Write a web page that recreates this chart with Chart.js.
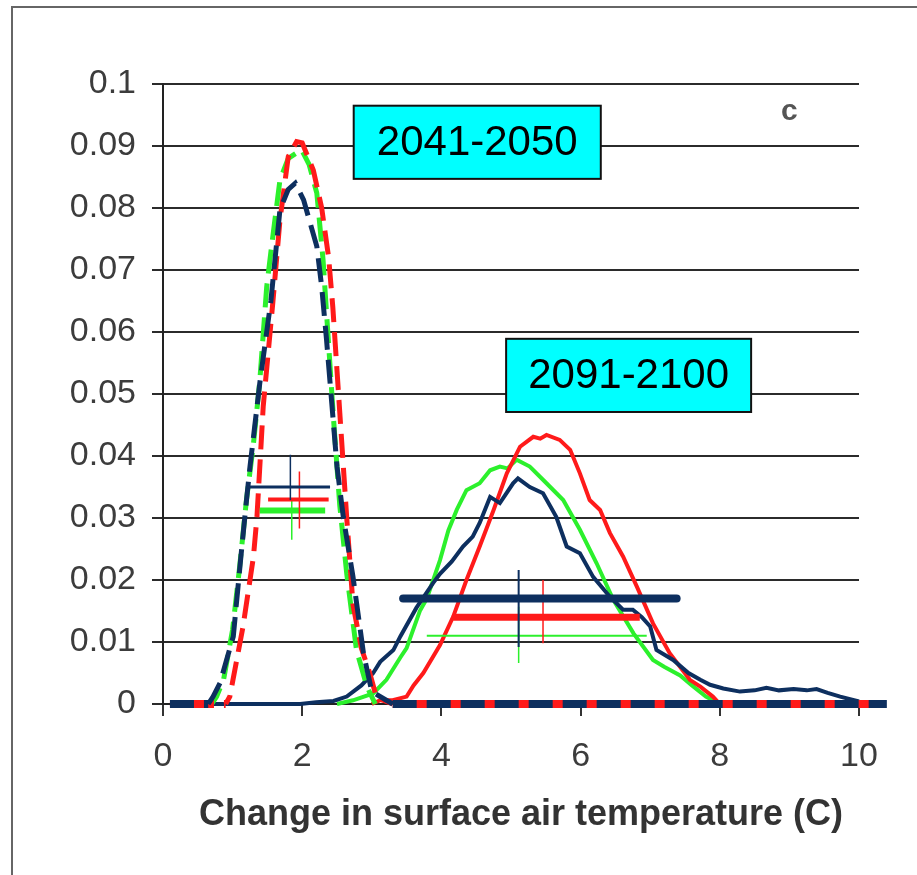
<!DOCTYPE html>
<html>
<head>
<meta charset="utf-8">
<script src="https://cdn.jsdelivr.net/npm/chart.js@4/dist/chart.umd.min.js"></script>
<style>
body{margin:0;background:#fff}
canvas{display:block}
</style>
</head>
<body>
<canvas id="chart" width="917" height="875"></canvas>
<script>

const xTicks=[0,2,4,6,8,10]
const yTicks=[0,0.01,0.02,0.03,0.04,0.05,0.06,0.07,0.08,0.09,0.1]
const xTitle="Change in surface air temperature (C)"
const periods=["2041-2050","2091-2100"]
const panelLabel="c"

// 2041-2050, dashed curves
const navyDashX=[0.1,0.65,0.72,0.82,1.01,1.11,1.20,1.25,1.39,1.55,1.68,1.80,1.90,2.02,2.21,2.28,2.35,2.50,2.59,2.73,2.88,3.0,3.3,10.4]
const navyDashY=[0,0,0.0012,0.0034,0.0109,0.0227,0.0329,0.0383,0.0517,0.065,0.0797,0.083,0.084,0.0813,0.0738,0.0673,0.0587,0.0383,0.0302,0.0205,0.0082,0.002,0,0]
const redDashX=[0.1,0.9,0.96,1.15,1.30,1.35,1.44,1.58,1.68,1.80,1.92,2.0,2.16,2.28,2.38,2.44,2.54,2.64,2.73,2.85,2.97,3.07,3.3,10.4]
const redDashY=[0,0,0.0012,0.0125,0.0238,0.0302,0.048,0.065,0.078,0.0883,0.0907,0.0905,0.0861,0.080,0.072,0.064,0.047,0.030,0.016,0.009,0.005,0.001,0,0]
const greenDashX=[0.6,0.7,0.77,0.87,1.0,1.1,1.2,1.3,1.39,1.49,1.56,1.68,1.8,1.99,2.1,2.21,2.30,2.35,2.45,2.54,2.64,2.78,2.93,3.05]
const greenDashY=[0,0,0.0012,0.0039,0.012,0.022,0.033,0.042,0.052,0.0673,0.0738,0.0845,0.088,0.0894,0.087,0.0824,0.0716,0.063,0.046,0.032,0.021,0.0087,0.0028,0]

// 2091-2100, solid curves
const navySolidX=[0.1,1.97,2.2,2.45,2.64,2.85,3.02,3.12,3.31,3.41,3.64,3.88,3.98,4.15,4.31,4.45,4.55,4.70,4.84,5.03,5.10,5.27,5.46,5.65,5.80,5.99,6.18,6.42,6.61,6.75,6.88,7.0,7.09,7.33,7.55,7.72,7.86,8.05,8.29,8.5,8.67,8.85,9.06,9.25,9.39,9.55,9.73,10.0,10.4]
const navySolidY=[0,0,0.0003,0.0005,0.0012,0.003,0.005,0.0068,0.0087,0.0109,0.0155,0.0195,0.021,0.023,0.0254,0.027,0.0292,0.0334,0.0324,0.0356,0.0364,0.035,0.034,0.0302,0.0254,0.0243,0.0205,0.0173,0.0152,0.0152,0.014,0.0125,0.0087,0.0071,0.005,0.0039,0.0031,0.0025,0.002,0.0022,0.0026,0.0022,0.0024,0.0022,0.0024,0.0018,0.0012,0.0004,0]
const redSolidX=[3.0,3.12,3.3,3.5,3.6,3.74,3.98,4.17,4.36,4.55,4.75,4.94,5.13,5.32,5.42,5.51,5.70,5.85,5.99,6.13,6.28,6.42,6.61,6.81,7.04,7.28,7.57,7.72,7.9,8.0]
const redSolidY=[0,0.0006,0.0006,0.0012,0.003,0.005,0.0095,0.0141,0.02,0.0254,0.0313,0.0372,0.0415,0.0431,0.0428,0.0434,0.0426,0.041,0.0372,0.0329,0.0313,0.0276,0.0238,0.0189,0.013,0.0082,0.0039,0.0028,0.0012,0]
const greenSolidX=[2.5,2.73,3.02,3.21,3.41,3.5,3.69,3.79,3.98,4.10,4.22,4.36,4.55,4.70,4.84,4.95,5.08,5.27,5.51,5.75,5.99,6.23,6.47,6.76,7.04,7.2,7.43,7.6,7.8,8.0]
const greenSolidY=[0,0.0006,0.0017,0.0039,0.0075,0.009,0.015,0.017,0.0232,0.028,0.0313,0.0345,0.0356,0.0377,0.0383,0.038,0.0394,0.0383,0.0356,0.0329,0.0281,0.0227,0.0168,0.0114,0.0071,0.006,0.0046,0.003,0.0012,0]

// ranges with centre marks: navy, red, green
const range2050Lo=[1.20,1.51,1.39]
const range2050Hi=[2.40,2.38,2.33]
const range2050Y=[0.035,0.033,0.0312]
const mark2050X=[1.83,1.96,1.85]
const mark2050Top=[0.0402,0.0375,0.033]
const mark2050Bot=[0.0329,0.0283,0.0265]

const range2100Lo=[3.45,4.17,3.79]
const range2100Hi=[7.38,6.85,6.95]
const range2100Y=[0.017,0.014,0.011]
const mark2100X=[5.11,5.46,5.11]
const mark2100Top=[0.0216,0.020,0.0157]
const mark2100Bot=[0.0092,0.0098,0.0066]

const NAVY="#0d2f5f"
const RED="#ff1a1a"
const GREEN="#2cf02c"
const colors=[NAVY,RED,GREEN]
const FONT="'Liberation Sans', Arial, sans-serif"

function pts(xs,ys){
return xs.map((x,i)=>({x:x,y:ys[i]}))
}

function curve(xs,ys,color,dashed,offset){
const w=dashed?5:4
return {
data:pts(xs,ys),
borderColor:color,
borderWidth:w,
borderDash:dashed?[24,10]:[],
borderDashOffset:offset||0,
segment:{
borderWidth:c=>(dashed&&c.p0.parsed.y===0&&c.p1.parsed.y===0)?8:w
}
}
}

let datasets=[]

// ranges on top
const rangeWidths2050=[3,4,6]
const rangeWidths2100=[8,7,2]
for(let i=0;i<3;i++){
datasets.push({data:[{x:range2100Lo[i],y:range2100Y[i]},{x:range2100Hi[i],y:range2100Y[i]}],borderColor:colors[i],borderWidth:rangeWidths2100[i],borderCapStyle:i==0?"round":"butt"})
datasets.push({data:[{x:mark2100X[i],y:mark2100Top[i]},{x:mark2100X[i],y:mark2100Bot[i]}],borderColor:colors[i],borderWidth:i==0?2:1.5})
datasets.push({data:[{x:range2050Lo[i],y:range2050Y[i]},{x:range2050Hi[i],y:range2050Y[i]}],borderColor:colors[i],borderWidth:rangeWidths2050[i]})
datasets.push({data:[{x:mark2050X[i],y:mark2050Top[i]},{x:mark2050X[i],y:mark2050Bot[i]}],borderColor:colors[i],borderWidth:1.5})
}

datasets.push(curve(navyDashX,navyDashY,NAVY,true,0))
datasets.push(curve(redDashX,redDashY,RED,true,14))
datasets.push(curve(greenDashX,greenDashY,GREEN,true,6))
datasets.push(curve(navySolidX,navySolidY,NAVY,false))
datasets.push(curve(redSolidX,redSolidY,RED,false))
datasets.push(curve(greenSolidX,greenSolidY,GREEN,false))

datasets.forEach(d=>{
d.pointRadius=0
d.tension=0
d.clip=false
d.fill=false
})

function box(ctx,x,y,x1,y1,x2,y2,text){
const l=x.getPixelForValue(x1),r=x.getPixelForValue(x2)
const t=y.getPixelForValue(y1),b=y.getPixelForValue(y2)
ctx.fillStyle="#00ffff"
ctx.fillRect(l,t,r-l,b-t)
ctx.strokeStyle="#111"
ctx.lineWidth=2
ctx.strokeRect(l,t,r-l,b-t)
ctx.fillStyle="#000"
ctx.font="42px "+FONT
ctx.textAlign="center"
ctx.textBaseline="middle"
ctx.fillText(text,(l+r)/2,(t+b)/2+1)
}

const extras={
id:"extras",
beforeDraw(chart){
const ctx=chart.ctx
ctx.save()
ctx.fillStyle="#fff"
ctx.fillRect(0,0,chart.width,chart.height)
ctx.strokeStyle="#666"
ctx.lineWidth=2
ctx.beginPath()
ctx.moveTo(12,chart.height)
ctx.lineTo(12,7)
ctx.lineTo(chart.width,7)
ctx.stroke()
ctx.restore()
},
afterDraw(chart){
const {ctx,chartArea,scales:{x,y}}=chart
ctx.save()
box(ctx,x,y,2.74,0.0965,6.29,0.0847,periods[0])
box(ctx,x,y,4.93,0.0589,8.45,0.0471,periods[1])

ctx.fillStyle="#555"
ctx.font="bold 30px "+FONT
ctx.textAlign="center"
ctx.textBaseline="middle"
ctx.fillText(panelLabel,x.getPixelForValue(9.0),y.getPixelForValue(0.0955))

ctx.fillStyle="#333"
ctx.font="bold 36px "+FONT
ctx.fillText(xTitle,(chartArea.left+chartArea.right)/2+10,chartArea.bottom+111)
ctx.restore()
}
}

new Chart(document.getElementById("chart"),{
type:"line",
data:{datasets:datasets},
plugins:[extras],
options:{
responsive:false,
animation:false,
events:[],
layout:{padding:{top:84,right:58,bottom:0,left:0}},
plugins:{legend:{display:false},tooltip:{enabled:false}},
scales:{
x:{
type:"linear",
min:0,max:10,
afterBuildTicks:a=>{a.ticks=xTicks.map(v=>({value:v}))},
afterFit:s=>{s.height=171},
grid:{drawOnChartArea:false,drawTicks:true,tickLength:12,color:"#333",lineWidth:2},
border:{display:true,color:"#222",width:2},
ticks:{font:{size:34,family:FONT},color:"#3c3c3c",padding:20,maxRotation:0}
},
y:{
min:0,max:0.1,
afterBuildTicks:a=>{a.ticks=yTicks.map(v=>({value:v}))},
afterFit:s=>{s.width=163},
grid:{color:"#2b2b2b",lineWidth:2,drawTicks:true,tickLength:11},
border:{display:true,color:"#222",width:2},
ticks:{font:{size:34,family:FONT},color:"#3c3c3c",padding:16,callback:v=>String(+v.toFixed(2))}
}
}
}
})

</script>
</body>
</html>
